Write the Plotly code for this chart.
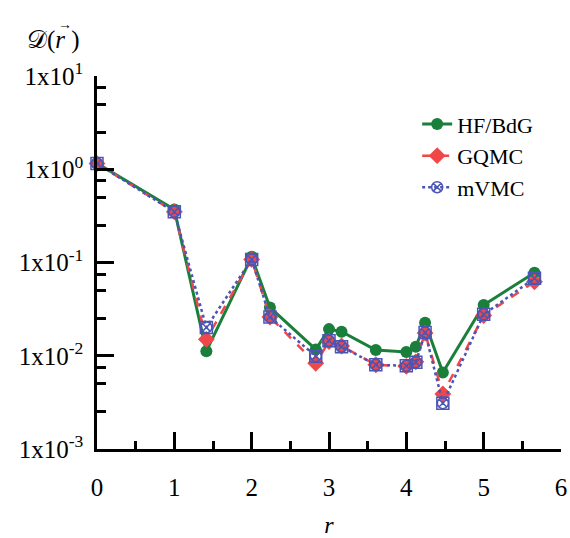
import plotly.graph_objects as go

r = [0, 1, 1.4142, 2, 2.2361, 2.8284, 3, 3.1623, 3.6056, 4, 4.1231, 4.2426, 4.4721, 5, 5.6569]
hf = [1.16, 0.37, 0.0112, 0.115, 0.033, 0.0117, 0.0193, 0.0181, 0.0115, 0.0110, 0.0125, 0.0226, 0.0066, 0.035, 0.0776]
gqmc = [1.15, 0.35, 0.015, 0.108, 0.026, 0.0083, 0.0142, 0.0127, 0.0080, 0.0077, 0.0086, 0.0175, 0.0039, 0.027, 0.062]
mvmc = [1.15, 0.35, 0.0201, 0.108, 0.026, 0.0099, 0.0145, 0.0125, 0.0080, 0.0078, 0.0085, 0.0178, 0.0031, 0.0278, 0.0676]

green = "#1a7f3a"
red = "#f04848"
blue = "#4a55b5"
font = "Liberation Serif, Times New Roman, serif"

fig = go.Figure()
fig.add_trace(go.Scatter(x=r, y=hf, name="HF/BdG", mode="lines+markers",
                         line=dict(color=green, width=3),
                         marker=dict(symbol="circle", size=12, color=green),
                         cliponaxis=False))
fig.add_trace(go.Scatter(x=r, y=gqmc, name="GQMC", mode="lines+markers",
                         line=dict(color=red, width=2.5, dash="dash"),
                         marker=dict(symbol="diamond", size=13, color=red),
                         cliponaxis=False))
fig.add_trace(go.Scatter(x=r, y=mvmc, name="mVMC", mode="lines+markers",
                         line=dict(color=blue, width=2.5, dash="dot"),
                         marker=dict(symbol="circle-x-open", size=11, color=blue,
                                     line=dict(width=1.5, color=blue)),
                         cliponaxis=False))
fig.add_trace(go.Scatter(x=r, y=mvmc, showlegend=False, mode="markers",
                         marker=dict(symbol="square-open", size=12, color=blue,
                                     line=dict(width=1.5, color=blue)),
                         cliponaxis=False, hoverinfo="skip"))

ytickvals = [1e-3, 1e-2, 1e-1, 1, 10]
yticktext = ["1x10<sup>-3</sup>", "1x10<sup>-2</sup>", "1x10<sup>-1</sup>", "1x10<sup>0</sup>", "1x10<sup>1</sup>"]
yminor = [m * 10.0 ** e for e in range(-3, 1) for m in (2.5, 5, 7.5)]

fig.update_layout(
    width=570, height=538,
    margin=dict(l=97, r=9, t=76, b=89, autoexpand=False),
    paper_bgcolor="white", plot_bgcolor="white",
    font=dict(family=font, size=24, color="black"),
    showlegend=True,
    legend=dict(x=0.69, y=0.927, xanchor="left", yanchor="top",
                font=dict(family=font, size=22), bgcolor="rgba(0,0,0,0)",
                tracegroupgap=0),
    xaxis=dict(range=[0, 6], tickvals=[0, 1, 2, 3, 4, 5, 6], ticks="inside",
               ticklen=17, tickwidth=2.5, tickcolor="black", automargin=False,
               showline=True, linecolor="black", linewidth=2.5, showgrid=False,
               zeroline=False, ticklabelstandoff=14,
               tickfont=dict(family=font, size=25),
               minor=dict(tickvals=[0.5, 1.5, 2.5, 3.5, 4.5, 5.5], ticks="inside",
                          ticklen=8, tickwidth=2.5, tickcolor="black"),
               title=dict(text="<i>r</i>", font=dict(family=font, size=24), standoff=18)),
    yaxis=dict(type="log", range=[-3, 1], tickvals=ytickvals, ticktext=yticktext,
               ticks="inside", ticklen=17, tickwidth=2.5, tickcolor="black",
               showline=True, linecolor="black", linewidth=2.5, showgrid=False,
               zeroline=False, ticklabelstandoff=6, automargin=False,
               tickfont=dict(family=font, size=25),
               minor=dict(tickvals=yminor, ticks="inside", ticklen=9,
                          tickwidth=2.5, tickcolor="black")),
)
fig.layout.annotations = [
    dict(text="𝒟(<i>r</i> )", x=-72 / 464, y=1 + 20 / 373, xref="paper", yref="paper",
         xanchor="left", yanchor="bottom", showarrow=False,
         font=dict(family=font, size=25)),
    dict(text="→", x=-72 / 464, y=1 + 20 / 373, xref="paper", yref="paper",
         xanchor="left", yanchor="bottom", xshift=31, yshift=22, showarrow=False,
         font=dict(family=font, size=14)),
]

fig.write_html("out.html")
